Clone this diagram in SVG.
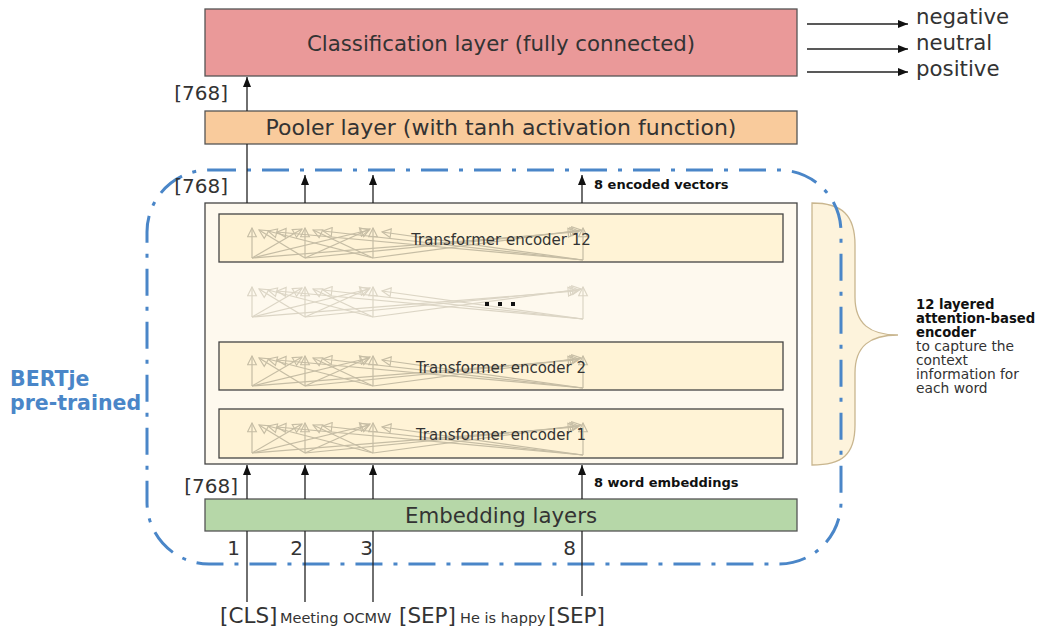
<svg xmlns="http://www.w3.org/2000/svg" width="1038" height="630" viewBox="0 0 1038 630">
<style>
  .lbl { font-family: "DejaVu Sans", "Open Sans", sans-serif; fill: #333; }
  .big { font-size: 21.3px; }
  .enc { font-size: 15px; text-anchor: middle; }
  .bold { font-family: "DejaVu Sans", sans-serif; font-weight: bold; fill: #111; }
  .box { stroke: #555; stroke-width: 1.3; }
  .encbox { fill: #fff3d6; stroke: #444; stroke-width: 1.3; }
  .con { stroke: #222; stroke-width: 1.3; fill: none; }
  .arr { marker-end: url(#ah); }
  .att { stroke: #b3ab94; stroke-width: 1.2; fill: none; marker-end: url(#oh); }
  .tok { font-size: 21.5px; }
  .word { font-size: 14.5px; }
</style>
<defs>
  <marker id="ah" markerUnits="userSpaceOnUse" markerWidth="10" markerHeight="8" viewBox="0 0 10 8" refX="10" refY="4" orient="auto">
    <path d="M0,0 L10,4 L0,8 z" fill="#111"/>
  </marker>
  <marker id="oh" markerUnits="userSpaceOnUse" markerWidth="11" markerHeight="11" viewBox="0 0 10 10" refX="9" refY="5" orient="auto">
    <path d="M1,1 L9,5 L1,9 z" fill="none" stroke="#b3ab94" stroke-width="1"/>
  </marker>
  <g id="attn">
    <line class="att" x1="252" y1="31" x2="252" y2="1"/>
    <line class="att" x1="252" y1="31" x2="302" y2="2"/>
    <line class="att" x1="252" y1="31" x2="369" y2="3"/>
    <line class="att" x1="252" y1="31" x2="577" y2="5"/>
    <line class="att" x1="305" y1="31" x2="259" y2="3"/>
    <line class="att" x1="305" y1="31" x2="305" y2="1"/>
    <line class="att" x1="305" y1="31" x2="370" y2="2"/>
    <line class="att" x1="305" y1="31" x2="579" y2="4"/>
    <line class="att" x1="373" y1="31" x2="268" y2="4"/>
    <line class="att" x1="373" y1="31" x2="313" y2="3"/>
    <line class="att" x1="373" y1="31" x2="373" y2="1"/>
    <line class="att" x1="373" y1="31" x2="581" y2="3"/>
    <line class="att" x1="583" y1="33" x2="277" y2="5"/>
    <line class="att" x1="583" y1="33" x2="323" y2="4"/>
    <line class="att" x1="583" y1="33" x2="382" y2="5"/>
    <line class="att" x1="583" y1="33" x2="583" y2="1"/>
  </g>
</defs>

<g id="bertje-brace">
  <path d="M812,203 C842,203 855,215 855,245 L855,297 C855,324 870,335 898,335 C870,335 855,346 855,373 L855,425 C855,455 842,465 812,465 Z" fill="#fdf3dc" stroke="#c9b68f" stroke-width="1.3"/>
</g>

<g id="classification">
  <rect class="box" x="205" y="9" width="592" height="67" fill="#ea9999"/>
  <text class="lbl big" x="501" y="51" text-anchor="middle">Classification layer (fully connected)</text>
</g>

<g id="pooler">
  <rect class="box" x="205" y="111" width="592" height="33" fill="#f9cb9c"/>
  <text class="lbl" x="501" y="135" text-anchor="middle" font-size="22">Pooler layer (with tanh activation function)</text>
</g>

<g id="encoder-stack">
  <rect x="205" y="203" width="592" height="261" fill="#fef9ee" stroke="#444" stroke-width="1.3"/>
  <g id="encoder-12">
    <rect class="encbox" x="219" y="214" width="564" height="48"/>
    <use href="#attn" transform="translate(0,227)" opacity="0.75"/>
    <text class="lbl enc" x="501" y="245">Transformer encoder 12</text>
  </g>
  <g id="encoder-middle">
    <use href="#attn" transform="translate(0,286)" opacity="0.45"/>
    <rect x="485" y="302" width="4" height="4" fill="#111"/>
    <rect x="498" y="302" width="4" height="4" fill="#111"/>
    <rect x="511" y="302" width="4" height="4" fill="#111"/>
  </g>
  <g id="encoder-2">
    <rect class="encbox" x="219" y="342" width="564" height="48"/>
    <use href="#attn" transform="translate(0,355)" opacity="0.75"/>
    <text class="lbl enc" x="501" y="373">Transformer encoder 2</text>
  </g>
  <g id="encoder-1">
    <rect class="encbox" x="219" y="409" width="564" height="49"/>
    <use href="#attn" transform="translate(0,422)" opacity="0.75"/>
    <text class="lbl enc" x="501" y="440">Transformer encoder 1</text>
  </g>
</g>

<g id="embedding">
  <rect class="box" x="205" y="499" width="592" height="32" fill="#b6d7a8"/>
  <text class="lbl big" x="501" y="523" text-anchor="middle">Embedding layers</text>
</g>

<g id="bertje-region">
  <rect x="147" y="170" width="694" height="394" rx="62" ry="62" fill="none" stroke="#4a86c8" stroke-width="3" stroke-dasharray="27 11 4 11"/>
  <text font-family="DejaVu Sans, sans-serif" font-weight="bold" font-size="20.5" fill="#4a86c8">
    <tspan x="10" y="386">BERTje</tspan>
    <tspan x="10" y="410">pre-trained</tspan>
  </text>
</g>

<g id="encoder-note">
  <text font-family="DejaVu Sans, sans-serif" font-size="13.2">
    <tspan class="bold" x="916" y="309">12 layered</tspan>
    <tspan class="bold" x="916" y="323">attention-based</tspan>
    <tspan class="bold" x="916" y="337">encoder</tspan>
    <tspan x="916" y="351" fill="#333" font-size="13.8">to capture the</tspan>
    <tspan x="916" y="365" fill="#333" font-size="13.8">context</tspan>
    <tspan x="916" y="379" fill="#333" font-size="13.8">information for</tspan>
    <tspan x="916" y="393" fill="#333" font-size="13.8">each word</tspan>
  </text>
</g>

<g id="outputs">
  <text class="lbl big" x="916" y="24">negative</text>
  <text class="lbl big" x="916" y="50">neutral</text>
  <text class="lbl big" x="916" y="76">positive</text>
</g>

<g id="connectors">
  <line class="con arr" x1="807" y1="24" x2="908" y2="24"/>
  <line class="con arr" x1="807" y1="49" x2="908" y2="49"/>
  <line class="con arr" x1="807" y1="72" x2="908" y2="72"/>
  <line class="con arr" x1="247" y1="111" x2="247" y2="77"/>
  <line class="con" x1="247" y1="203" x2="247" y2="144"/>
  <line class="con arr" x1="305" y1="203" x2="305" y2="175"/>
  <line class="con arr" x1="373" y1="203" x2="373" y2="175"/>
  <line class="con arr" x1="582" y1="203" x2="582" y2="175"/>
  <line class="con arr" x1="247" y1="499" x2="247" y2="465"/>
  <line class="con arr" x1="305" y1="499" x2="305" y2="465"/>
  <line class="con arr" x1="373" y1="499" x2="373" y2="465"/>
  <line class="con arr" x1="582" y1="499" x2="582" y2="465"/>
  <line class="con" x1="247" y1="602" x2="247" y2="531"/>
  <line class="con" x1="305" y1="602" x2="305" y2="531"/>
  <line class="con" x1="373" y1="602" x2="373" y2="531"/>
  <line class="con" x1="582" y1="596" x2="582" y2="531"/>
</g>

<g id="connector-labels">
  <text class="lbl" font-size="20" x="228" y="100" text-anchor="end">[768]</text>
  <text class="lbl" font-size="20" x="228" y="193" text-anchor="end">[768]</text>
  <text class="lbl" font-size="20" x="238" y="493" text-anchor="end">[768]</text>
  <text class="bold" font-size="13" x="594" y="189">8 encoded vectors</text>
  <text class="bold" font-size="13" x="594" y="487">8 word embeddings</text>
  <text class="lbl" font-size="20" x="240" y="555" text-anchor="end">1</text>
  <text class="lbl" font-size="20" x="303" y="555" text-anchor="end">2</text>
  <text class="lbl" font-size="20" x="373" y="555" text-anchor="end">3</text>
  <text class="lbl" font-size="20" x="576" y="555" text-anchor="end">8</text>
</g>

<g id="input-tokens">
  <text class="lbl tok" x="220" y="623">[CLS]</text>
  <text class="lbl word" x="280" y="623">Meeting OCMW</text>
  <text class="lbl tok" x="399" y="623">[SEP]</text>
  <text class="lbl word" x="460" y="623">He is happy</text>
  <text class="lbl tok" x="548" y="623">[SEP]</text>
</g>
</svg>
